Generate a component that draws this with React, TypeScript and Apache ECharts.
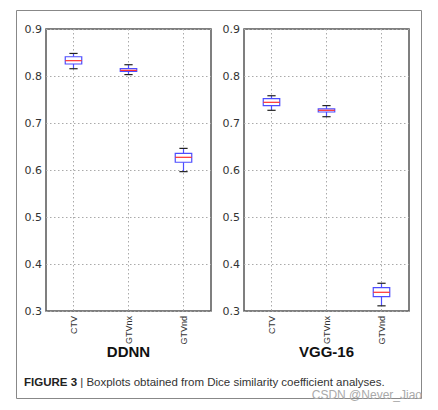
import React, { useEffect, useRef } from "react";
import * as echarts from "echarts";

const categories = ["CTV", "GTVnx", "GTVnd"];
const yTicks = [0.3, 0.4, 0.5, 0.6, 0.7, 0.8, 0.9];
// [category index, low whisker, q1, median, q3, high whisker]
const ddnnBoxes = [
  [0, 0.8155, 0.8255, 0.8326, 0.841, 0.848],
  [1, 0.803, 0.81, 0.812, 0.8155, 0.824],
  [2, 0.5965, 0.6165, 0.627, 0.6355, 0.646],
];
const vggBoxes = [
  [0, 0.727, 0.737, 0.744, 0.7517, 0.758],
  [1, 0.7134, 0.7234, 0.727, 0.73, 0.737],
  [2, 0.311, 0.3304, 0.3398, 0.3496, 0.359],
];
const panelTitles = ["DDNN", "VGG-16"];

const renderBox = (params: any, api: any) => {
  const x = api.value(0);
  const low = api.coord([x, api.value(1)]);
  const q1 = api.coord([x, api.value(2)]);
  const med = api.coord([x, api.value(3)]);
  const q3 = api.coord([x, api.value(4)]);
  const high = api.coord([x, api.value(5)]);
  const band = api.size([1, 0])[0];
  const bw = band * 0.3;
  const cw = bw * 0.5;
  const cx = q1[0];
  const blue = "#4d4dff";
  return {
    type: "group",
    children: [
      { type: "line", shape: { x1: cx, y1: q3[1], x2: cx, y2: high[1] }, style: { stroke: blue, lineWidth: 1.2 } },
      { type: "line", shape: { x1: cx, y1: q1[1], x2: cx, y2: low[1] }, style: { stroke: blue, lineWidth: 1.2 } },
      { type: "line", shape: { x1: cx - cw / 2, y1: high[1], x2: cx + cw / 2, y2: high[1] }, style: { stroke: "#222", lineWidth: 1.2 } },
      { type: "line", shape: { x1: cx - cw / 2, y1: low[1], x2: cx + cw / 2, y2: low[1] }, style: { stroke: "#222", lineWidth: 1.2 } },
      { type: "rect", shape: { x: cx - bw / 2, y: q3[1], width: bw, height: q1[1] - q3[1] }, style: { fill: "#fff", stroke: blue, lineWidth: 1.2 } },
      { type: "line", shape: { x1: cx - bw / 2, y1: med[1], x2: cx + bw / 2, y2: med[1] }, style: { stroke: "#ff3030", lineWidth: 1.2 } },
    ],
  };
};

export default function App() {
  const ref = useRef<HTMLDivElement>(null);
  useEffect(() => {
    document.body.style.margin = "0";
    const chart = echarts.init(ref.current!, null, { renderer: "svg" });
    const grids = [
      { left: 46, top: 29, width: 165, height: 282 },
      { left: 244, top: 29, width: 165, height: 282 },
    ];
    const dotted = { show: true, lineStyle: { color: "#aaa", type: [1.5, 2.5], width: 1 } };
    chart.setOption({
      animation: false,
      grid: grids.map((g) => ({ ...g, show: true, borderColor: "#555", borderWidth: 1.5, backgroundColor: "transparent" })),
      xAxis: [0, 1].map((i) => ({
        type: "category",
        gridIndex: i,
        data: categories,
        boundaryGap: true,
        axisLine: { show: false },
        axisTick: { show: false, alignWithLabel: true },
        splitLine: { ...dotted, alignWithLabel: true },
        axisLabel: { rotate: 90, fontSize: 9, color: "#333", fontFamily: "Liberation Sans", margin: 5 },
      })),
      yAxis: [0, 1].map((i) => ({
        type: "value",
        gridIndex: i,
        min: yTicks[0],
        max: yTicks[yTicks.length - 1],
        interval: 0.1,
        axisLine: { show: false },
        axisTick: { show: false },
        splitLine: dotted,
        axisLabel: { fontSize: 11, color: "#333", fontFamily: "DejaVu Sans", margin: 4, formatter: (v: number) => v.toFixed(1) },
      })),
      series: [ddnnBoxes, vggBoxes].map((d, i) => ({
        type: "custom",
        xAxisIndex: i,
        yAxisIndex: i,
        renderItem: renderBox,
        encode: { x: 0, y: [1, 2, 3, 4, 5] },
        data: d,
        z: 5,
      })),
      graphic: [
        { type: "rect", shape: { x: 16.5, y: 10.5, width: 405, height: 388 }, style: { fill: "none", stroke: "#888", lineWidth: 1 }, silent: true },
        ...panelTitles.map((t, i) => ({
          type: "text",
          x: grids[i].left + grids[i].width / 2,
          y: 351,
          style: { text: t, fontSize: 15, fontWeight: "bold", fontFamily: "Liberation Sans", fill: "#111", align: "center", verticalAlign: "middle" },
        })),
        {
          type: "text",
          x: 24,
          y: 382,
          style: {
            text: "{b|FIGURE 3} | Boxplots obtained from Dice similarity coefficient analyses.",
            fontSize: 11.5,
            fontFamily: "Liberation Sans",
            fill: "#333",
            verticalAlign: "middle",
            rich: { b: { fontWeight: "bold", fontSize: 11.5, fontFamily: "Liberation Sans", fill: "#222" } },
          },
        },
        {
          type: "text",
          x: 422,
          y: 395,
          style: { text: "CSDN @Never_Jiao", fontSize: 12, fontFamily: "Liberation Sans", fill: "#aaa", align: "right", verticalAlign: "middle" },
        },
      ],
    });
    return () => chart.dispose();
  }, []);
  return <div ref={ref} style={{ width: 438, height: 410 }} />;
}
